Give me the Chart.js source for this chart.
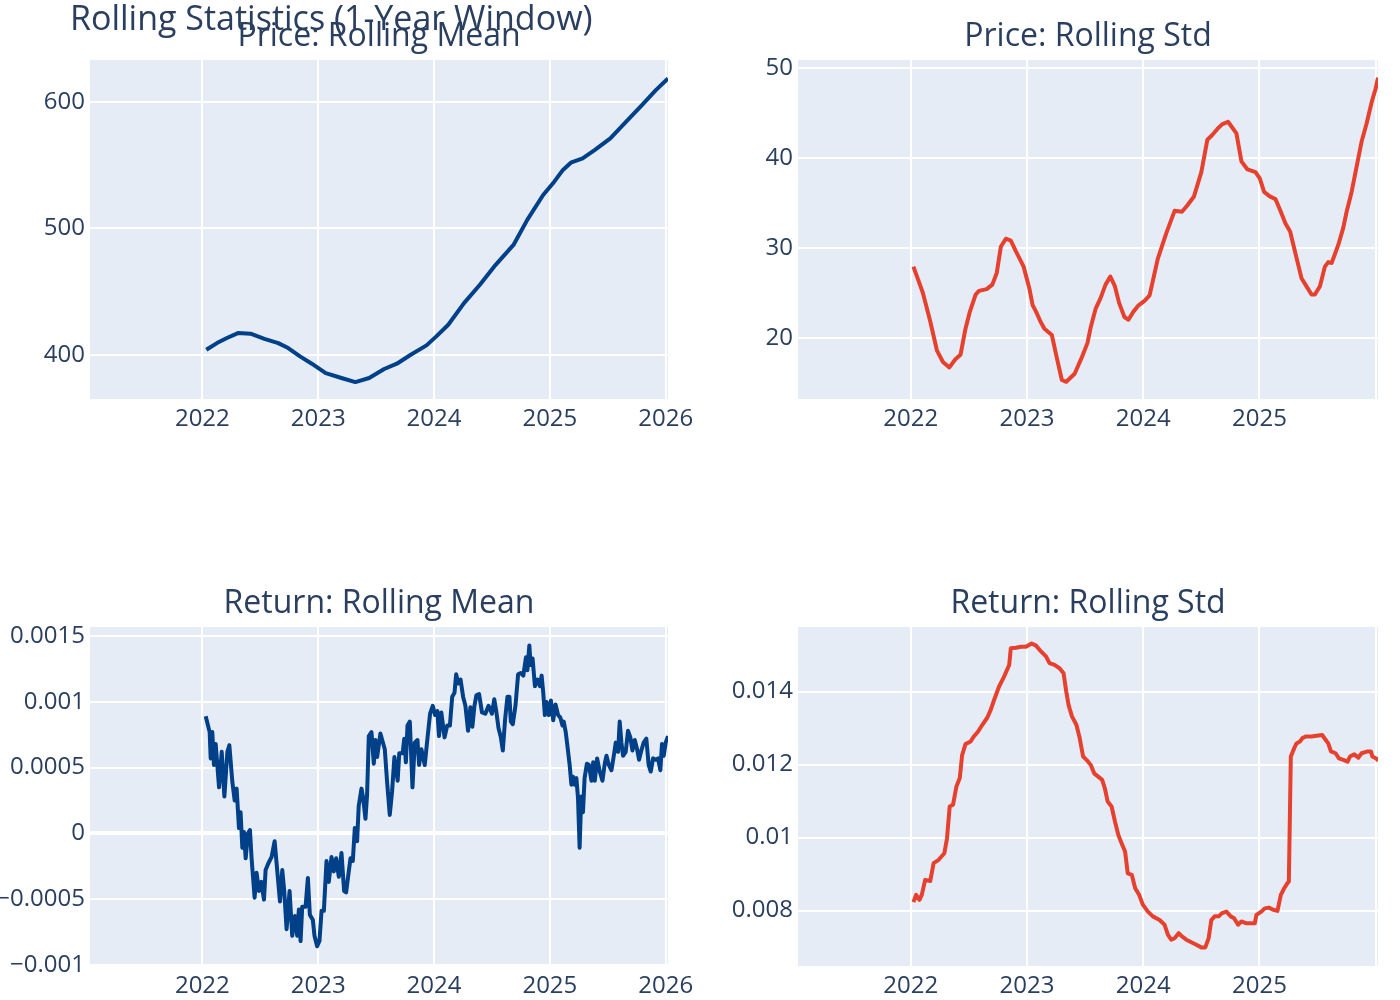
<!DOCTYPE html>
<html>
<head>
<meta charset="utf-8">
<script src="https://cdn.jsdelivr.net/npm/chart.js@4.4.1/dist/chart.umd.min.js"></script>
<style>
  body { margin: 0; background: #fff; }
  #wrap { position: relative; width: 1400px; height: 1000px; overflow: hidden; }
  canvas { position: absolute; }
  #mainTitle {
    position: absolute; left: 70px; top: 0; z-index: 5;
    font-family: 'Open Sans', sans-serif; font-size: 34px; line-height: 34px;
    color: #2a3f5f; white-space: nowrap;
  }
</style>
</head>
<body>
<div id="wrap">
  <div id="mainTitle">Rolling Statistics (1-Year Window)</div>
  <canvas id="priceMeanChart" width="700" height="500" style="left:0;top:0"></canvas>
  <canvas id="priceStdChart" width="700" height="500" style="left:700px;top:0"></canvas>
  <canvas id="retMeanChart" width="700" height="500" style="left:0;top:500px"></canvas>
  <canvas id="retStdChart" width="700" height="500" style="left:700px;top:500px"></canvas>
</div>
<script>
// x values are decimal years
const yearTicks = [2022, 2023, 2024, 2025, 2026];
const yearLabelsLeft = ['2022', '2023', '2024', '2025', '2026'];
const yearLabelsRight = ['2022', '2023', '2024', '2025', ''];

// Price: rolling mean
const priceMeanYears = [2022.034, 2022.126, 2022.212, 2022.307, 2022.416, 2022.536, 2022.655, 2022.741, 2022.843, 2022.945,
  2023.065, 2023.201, 2023.321, 2023.44, 2023.57, 2023.679, 2023.799, 2023.935, 2024.02, 2024.123,
  2024.259, 2024.396, 2024.532, 2024.686, 2024.805, 2024.942, 2025.027, 2025.113, 2025.181, 2025.283,
  2025.386, 2025.522, 2025.659, 2025.795, 2025.915, 2026.02];
const priceMean = [403.9, 409.2, 413.2, 417.1, 416.6, 412.6, 409.2, 405.3, 398.7, 392.9,
  385.5, 381.6, 378.4, 381.6, 388.7, 392.9, 400, 407.4, 414.5, 423.7,
  440.8, 455.3, 471.1, 486.8, 506.6, 526.3, 535.5, 546.1, 551.8, 555.3,
  561.8, 571.1, 584.2, 597.4, 609.2, 618.4];
const priceMeanTicks = [400, 500, 600];
const priceMeanLabels = ['400', '500', '600'];

// Price: rolling std
const priceStdYears = [2022.023, 2022.104, 2022.168, 2022.225, 2022.277, 2022.332, 2022.384, 2022.428, 2022.471, 2022.509,
  2022.558, 2022.587, 2022.653, 2022.702, 2022.74, 2022.775, 2022.818, 2022.861, 2022.905, 2022.971,
  2023.02, 2023.049, 2023.078, 2023.116, 2023.15, 2023.214, 2023.251, 2023.3, 2023.338, 2023.41,
  2023.468, 2023.52, 2023.549, 2023.59, 2023.633, 2023.676, 2023.717, 2023.757, 2023.792, 2023.838,
  2023.873, 2023.916, 2023.96, 2024.011, 2024.055, 2024.126, 2024.198, 2024.27, 2024.333, 2024.379,
  2024.437, 2024.5, 2024.552, 2024.592, 2024.638, 2024.678, 2024.73, 2024.802, 2024.845, 2024.897,
  2024.966, 2025.003, 2025.04, 2025.089, 2025.138, 2025.184, 2025.224, 2025.264, 2025.305, 2025.362,
  2025.405, 2025.448, 2025.477, 2025.52, 2025.563, 2025.592, 2025.621, 2025.678, 2025.721, 2025.75,
  2025.793, 2025.836, 2025.879, 2025.922, 2025.966, 2026.0, 2026.02];
const priceStd = [27.9, 25.0, 21.8, 18.6, 17.3, 16.7, 17.6, 18.1, 21.0, 22.9,
  24.8, 25.2, 25.4, 25.9, 27.2, 30.1, 31.0, 30.8, 29.6, 27.9,
  25.5, 23.6, 22.9, 21.8, 21.0, 20.3, 18.1, 15.3, 15.1, 16.0,
  17.7, 19.4, 21.2, 23.2, 24.4, 25.9, 26.8, 25.7, 23.9, 22.3,
  22.0, 22.9, 23.6, 24.1, 24.7, 28.8, 31.6, 34.1, 34.0, 34.7,
  35.7, 38.4, 42.0, 42.5, 43.2, 43.7, 44.0, 42.7, 39.6, 38.7,
  38.4, 37.7, 36.2, 35.7, 35.4, 34.0, 32.7, 31.8, 29.6, 26.6,
  25.7, 24.8, 24.8, 25.7, 27.9, 28.4, 28.3, 30.3, 32.2, 34.0,
  36.2, 39.0, 41.8, 43.8, 46.2, 47.7, 48.9];
const priceStdTicks = [20, 30, 40, 50];
const priceStdLabels = ['20', '30', '40', '50'];

// Return: rolling mean
const retMeanYears = [2022.029, 2022.063, 2022.072, 2022.086, 2022.1, 2022.115, 2022.129, 2022.144, 2022.167, 2022.19,
  2022.216, 2022.233, 2022.259, 2022.279, 2022.296, 2022.316, 2022.33, 2022.345, 2022.359, 2022.374,
  2022.394, 2022.411, 2022.425, 2022.451, 2022.468, 2022.489, 2022.509, 2022.532, 2022.546, 2022.569,
  2022.598, 2022.624, 2022.647, 2022.67, 2022.69, 2022.707, 2022.727, 2022.753, 2022.776, 2022.799,
  2022.819, 2022.833, 2022.848, 2022.862, 2022.891, 2022.911, 2022.928, 2022.954, 2022.968, 2022.991,
  2023.011, 2023.029, 2023.049, 2023.072, 2023.092, 2023.115, 2023.135, 2023.155, 2023.178, 2023.201,
  2023.224, 2023.241, 2023.264, 2023.279, 2023.299, 2023.316, 2023.336, 2023.35, 2023.374, 2023.388,
  2023.408, 2023.422, 2023.437, 2023.46, 2023.48, 2023.494, 2023.509, 2023.537, 2023.575, 2023.595,
  2023.618, 2023.638, 2023.658, 2023.686, 2023.7, 2023.729, 2023.743, 2023.757, 2023.771, 2023.791,
  2023.814, 2023.834, 2023.857, 2023.871, 2023.891, 2023.92, 2023.943, 2023.966, 2023.989, 2024.009,
  2024.029, 2024.043, 2024.063, 2024.091, 2024.114, 2024.137, 2024.157, 2024.177, 2024.191, 2024.209,
  2024.229, 2024.251, 2024.271, 2024.294, 2024.314, 2024.331, 2024.349, 2024.366, 2024.389, 2024.414,
  2024.443, 2024.471, 2024.5, 2024.52, 2024.537, 2024.557, 2024.577, 2024.594, 2024.614, 2024.634,
  2024.651, 2024.663, 2024.68, 2024.703, 2024.726, 2024.749, 2024.771, 2024.794, 2024.806, 2024.823,
  2024.834, 2024.851, 2024.871, 2024.894, 2024.914, 2024.929, 2024.943, 2024.957, 2024.971, 2024.991,
  2025.009, 2025.029, 2025.049, 2025.071, 2025.091, 2025.109, 2025.12, 2025.137, 2025.151, 2025.171,
  2025.186, 2025.2, 2025.214, 2025.229, 2025.243, 2025.257, 2025.271, 2025.286, 2025.3, 2025.32,
  2025.337, 2025.359, 2025.374, 2025.388, 2025.408, 2025.431, 2025.454, 2025.474, 2025.489, 2025.509,
  2025.532, 2025.552, 2025.569, 2025.589, 2025.603, 2025.618, 2025.632, 2025.655, 2025.675, 2025.695,
  2025.713, 2025.733, 2025.753, 2025.77, 2025.79, 2025.81, 2025.833, 2025.853, 2025.871, 2025.891,
  2025.914, 2025.934, 2025.954, 2025.968, 2025.983, 2026.0, 2026.02];
const retMean = [0.00089, 0.00077, 0.00057, 0.00077, 0.00052, 0.00068, 0.00052, 0.00035, 0.00062, 0.00028,
  0.00062, 0.00067, 0.00039, 0.00025, 0.00034, 0.00004, 0.00016, -0.00011, 0.00001, -0.00019,
  0.0, 0.000025, -0.00019, -0.00049, -0.0003, -0.00044, -0.00037, -0.000505, -0.00028, -0.00023,
  -0.00018, -0.00006, -0.00029, -0.00052, -0.00028, -0.00044, -0.00073, -0.00044, -0.00078, -0.00063,
  -0.00078, -0.00058, -0.00082, -0.00056, -0.00056, -0.00034, -0.00062, -0.00066, -0.00078, -0.00086,
  -0.00082, -0.00059, -0.00059, -0.00021, -0.00037, -0.00018, -0.00029, -0.00019, -0.00033, -0.00015,
  -0.00044, -0.00045, -0.00029, -0.00019, -0.00021, 0.00004, -0.00006, 0.00021, 0.00034, 0.00027,
  0.00011, 0.00029, 0.00074, 0.00077, 0.00053, 0.00071, 0.00058, 0.00076, 0.00064, 0.00039,
  0.00014, 0.00032, 0.00058, 0.0004, 0.00061, 0.00061, 0.00072, 0.00054, 0.00082, 0.00085,
  0.00035, 0.00069, 0.00071, 0.00052, 0.00064, 0.00052, 0.00072, 0.00091, 0.00097, 0.0009,
  0.00093, 0.00074, 0.00092, 0.00073, 0.00082, 0.00082, 0.00104, 0.00107, 0.00121, 0.00114,
  0.00117, 0.00104, 0.00097, 0.00078, 0.00096, 0.00081, 0.00097, 0.00105, 0.00106, 0.00092,
  0.00091, 0.00097, 0.00091, 0.00102, 0.00093, 0.0008, 0.00073, 0.00063, 0.00087, 0.00104,
  0.00104, 0.00085, 0.00083, 0.00097, 0.00121, 0.00122, 0.0012, 0.00134, 0.00124, 0.00143,
  0.00128, 0.00133, 0.00112, 0.00117, 0.00112, 0.0012, 0.00107, 0.0009, 0.001, 0.0009,
  0.00101, 0.00086, 0.00098, 0.0009, 0.00088, 0.00082, 0.00085, 0.00077, 0.00067, 0.00052,
  0.00037, 0.00043, 0.00037, 0.00042, 0.00027, -0.00011, 0.00028, 0.00016, 0.00042, 0.00053,
  0.00052, 0.0004, 0.00054, 0.0004, 0.00057, 0.00047, 0.0004, 0.00053, 0.00059, 0.00052,
  0.00048, 0.00059, 0.00069, 0.00062, 0.00085, 0.00069, 0.00059, 0.00062, 0.00078, 0.00073,
  0.00063, 0.00071, 0.00064, 0.00056, 0.00063, 0.00069, 0.00072, 0.00052, 0.00047, 0.00057,
  0.00056, 0.00057, 0.00048, 0.00068, 0.00059, 0.00069, 0.00074];
const retMeanTicks = [-0.001, -0.0005, 0, 0.0005, 0.001, 0.0015];
const retMeanLabels = ['\u22120.001', '\u22120.0005', '0', '0.0005', '0.001', '0.0015'];

// Return: rolling std
const retStdYears = [2022.023, 2022.046, 2022.075, 2022.095, 2022.124, 2022.168, 2022.197, 2022.24, 2022.289, 2022.312,
  2022.335, 2022.364, 2022.393, 2022.422, 2022.442, 2022.471, 2022.514, 2022.543, 2022.578, 2022.616,
  2022.659, 2022.688, 2022.717, 2022.76, 2022.803, 2022.847, 2022.861, 2022.905, 2022.948, 2022.991,
  2023.04, 2023.078, 2023.121, 2023.165, 2023.194, 2023.237, 2023.28, 2023.315, 2023.338, 2023.358,
  2023.387, 2023.425, 2023.454, 2023.483, 2023.512, 2023.549, 2023.578, 2023.613, 2023.647, 2023.67,
  2023.694, 2023.728, 2023.757, 2023.786, 2023.815, 2023.844, 2023.867, 2023.902, 2023.931, 2023.965,
  2023.997, 2024.04, 2024.083, 2024.141, 2024.184, 2024.213, 2024.241, 2024.27, 2024.305, 2024.333,
  2024.371, 2024.414, 2024.457, 2024.5, 2024.534, 2024.563, 2024.586, 2024.615, 2024.649, 2024.678,
  2024.716, 2024.753, 2024.782, 2024.816, 2024.845, 2024.888, 2024.931, 2024.96, 2024.974, 2025.017,
  2025.046, 2025.08, 2025.118, 2025.155, 2025.184, 2025.213, 2025.241, 2025.253, 2025.27, 2025.299,
  2025.319, 2025.348, 2025.368, 2025.397, 2025.448, 2025.491, 2025.54, 2025.569, 2025.592, 2025.615,
  2025.655, 2025.684, 2025.721, 2025.759, 2025.779, 2025.816, 2025.851, 2025.879, 2025.931, 2025.96,
  2025.971, 2026.009, 2026.02];
const retStd = [0.00823, 0.00843, 0.00829, 0.00843, 0.00884, 0.00881, 0.0093, 0.00939, 0.00957, 0.00998,
  0.01085, 0.0109, 0.0114, 0.01163, 0.01226, 0.01256, 0.01263, 0.01277, 0.0129, 0.01309,
  0.01329, 0.0135, 0.01377, 0.01414, 0.01441, 0.01473, 0.01519, 0.0152, 0.01523, 0.01523,
  0.01532, 0.01526, 0.0151, 0.01496, 0.01478, 0.01473, 0.01464, 0.0145, 0.014, 0.01363,
  0.01332, 0.01309, 0.01272, 0.01222, 0.01213, 0.01199, 0.01176, 0.01167, 0.01158, 0.01135,
  0.01099, 0.01085, 0.01044, 0.01007, 0.00984, 0.00962, 0.00902, 0.00898, 0.00861, 0.00843,
  0.00816, 0.00797, 0.00784, 0.00774, 0.00761, 0.00733, 0.0072, 0.00724, 0.00738, 0.00729,
  0.0072, 0.00713, 0.00706, 0.00699, 0.00699, 0.00724, 0.00774, 0.00784, 0.00784, 0.00793,
  0.00797, 0.00784, 0.00779, 0.00761, 0.0077, 0.00765, 0.00765, 0.00765, 0.00788, 0.00797,
  0.00806, 0.00808, 0.00802, 0.00799, 0.00843, 0.00861, 0.00875, 0.00879, 0.01222, 0.01245,
  0.01258, 0.01263, 0.01272, 0.01277, 0.01277, 0.01279, 0.01281, 0.01268, 0.01258, 0.01236,
  0.01231, 0.01217, 0.01213, 0.01208, 0.01222, 0.01228, 0.01219, 0.01231, 0.01236, 0.01236,
  0.01222, 0.01216, 0.0121];
const retStdTicks = [0.008, 0.01, 0.012, 0.014];
const retStdLabels = ['0.008', '0.01', '0.012', '0.014'];

const fontFamily = "'Open Sans', verdana, arial, sans-serif";
const textColor = '#2a3f5f';
const blue = '#004088';
const red = '#e5412e';

//draws the light plot background and the panel title
const panelDecor = {
  id: 'panelDecor',
  beforeDraw(chart, args, opts) {
    const a = chart.chartArea;
    const ctx = chart.ctx;
    ctx.save();
    ctx.fillStyle = '#e5ecf6';
    ctx.fillRect(a.left, a.top, a.right - a.left, a.bottom - a.top);
    ctx.restore();
  },
  afterDraw(chart, args, opts) {
    const a = chart.chartArea;
    const ctx = chart.ctx;
    ctx.save();
    ctx.font = '32px ' + fontFamily;
    ctx.fillStyle = textColor;
    ctx.textAlign = 'center';
    ctx.textBaseline = 'alphabetic';
    ctx.fillText(opts.title, (a.left + a.right) / 2, a.top - 14);
    ctx.restore();
  }
};

function makePanel(id, p) {
  const points = p.xs.map((x, i) => ({ x: x, y: p.ys[i] }));
  return new Chart(document.getElementById(id), {
    type: 'line',
    data: {
      datasets: [{
        data: points,
        borderColor: p.color,
        borderWidth: 4,
        pointRadius: 0,
        tension: 0,
        borderJoinStyle: 'round',
        fill: false,
      }],
    },
    options: {
      responsive: false,
      animation: false,
      events: [],
      layout: { padding: p.padding },
      plugins: {
        legend: { display: false },
        tooltip: { enabled: false },
        panelDecor: { title: p.title },
      },
      scales: {
        x: {
          type: 'linear',
          min: 2021.03,
          max: 2026.02,
          bounds: 'data',
          afterBuildTicks: (scale) => { scale.ticks = yearTicks.map((v) => ({ value: v })); },
          afterFit: (scale) => { scale.height = 30; },
          grid: { color: '#ffffff', lineWidth: 2, drawTicks: false },
          border: { display: false },
          ticks: {
            autoSkip: false,
            maxRotation: 0,
            padding: 6,
            color: textColor,
            font: { family: fontFamily, size: 24 },
            callback: (v, i) => p.xLabels[i],
          },
        },
        y: {
          type: 'linear',
          min: p.yMin,
          max: p.yMax,
          bounds: 'data',
          afterBuildTicks: (scale) => { scale.ticks = p.yTicks.map((v) => ({ value: v })); },
          afterFit: (scale) => { scale.width = p.yWidth; },
          grid: {
            color: '#ffffff',
            drawTicks: false,
            lineWidth: (ctx) => (ctx.tick && ctx.tick.value === 0 ? 4 : 2),
          },
          border: { display: false },
          ticks: {
            autoSkip: false,
            padding: 5,
            color: textColor,
            font: { family: fontFamily, size: 24 },
            callback: (v, i) => p.yLabels[i],
          },
        },
      },
    },
    plugins: [panelDecor],
  });
}

makePanel('priceMeanChart', {
  title: 'Price: Rolling Mean', xs: priceMeanYears, ys: priceMean, color: blue,
  yMin: 365, yMax: 633, yTicks: priceMeanTicks, yLabels: priceMeanLabels, xLabels: yearLabelsLeft,
  yWidth: 90, padding: { top: 60, right: 32, bottom: 71, left: 0 },
});
makePanel('priceStdChart', {
  title: 'Price: Rolling Std', xs: priceStdYears, ys: priceStd, color: red,
  yMin: 13.19, yMax: 50.86, yTicks: priceStdTicks, yLabels: priceStdLabels, xLabels: yearLabelsRight,
  yWidth: 98, padding: { top: 60, right: 22, bottom: 71, left: 0 },
});
makePanel('retMeanChart', {
  title: 'Return: Rolling Mean', xs: retMeanYears, ys: retMean, color: blue,
  yMin: -0.00101, yMax: 0.00157, yTicks: retMeanTicks, yLabels: retMeanLabels, xLabels: yearLabelsLeft,
  yWidth: 90, padding: { top: 127, right: 32, bottom: 4, left: 0 },
});
makePanel('retStdChart', {
  title: 'Return: Rolling Std', xs: retStdYears, ys: retStd, color: red,
  yMin: 0.00648, yMax: 0.01577, yTicks: retStdTicks, yLabels: retStdLabels, xLabels: yearLabelsRight,
  yWidth: 98, padding: { top: 127, right: 22, bottom: 4, left: 0 },
});
</script>
</body>
</html>
